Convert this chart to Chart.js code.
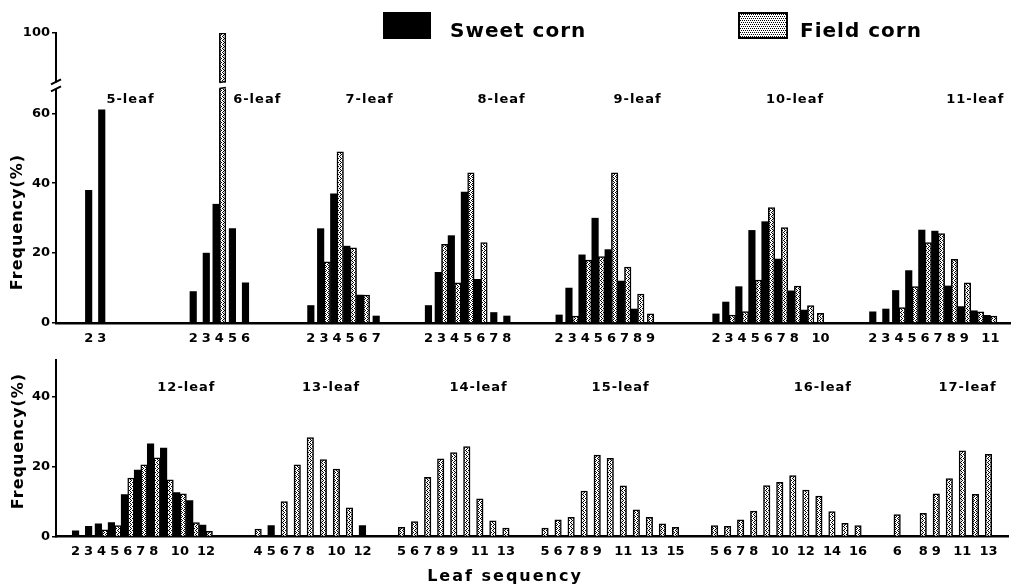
<!DOCTYPE html>
<html>
<head>
<meta charset="utf-8">
<script src="https://cdn.jsdelivr.net/npm/chart.js@4.4.1/dist/chart.umd.min.js"></script>
<style>
  body { margin: 0; background: #fff; }
  #wrap { position: relative; width: 1016px; height: 587px; overflow: hidden; font-family: "DejaVu Sans", sans-serif; font-weight: bold; }
  canvas { position: absolute; left: 0; }
  .keytxt { position: absolute; top: 18px; font-size: 20px; letter-spacing: 1px; color: #000; }
</style>
</head>
<body>
<div id="wrap">
  <canvas id="topChart" width="1016" height="350" style="top:0"></canvas>
  <canvas id="bottomChart" width="1016" height="237" style="top:350px"></canvas>
  <div style="position:absolute;left:383px;top:12px;width:48px;height:27px;background:#000"></div>
  <div class="keytxt" style="left:450px">Sweet corn</div>
  <canvas id="fieldKey" width="50" height="27" style="left:738px;top:12px"></canvas>
  <div class="keytxt" style="left:800px">Field corn</div>
</div>
<script>
// ---- data: frequency (%) of each leaf position, per plant type ----
const topGroups = ['5-leaf', '6-leaf', '7-leaf', '8-leaf', '9-leaf', '10-leaf', '11-leaf'];
const topTicks = [
  ['2', '3'],
  ['2', '3', '4', '5', '6'],
  ['2', '3', '4', '5', '6', '7'],
  ['2', '3', '4', '5', '6', '7', '8'],
  ['2', '3', '4', '5', '6', '7', '8', '9'],
  ['2', '3', '4', '5', '6', '7', '8', '', '10'],
  ['2', '3', '4', '5', '6', '7', '8', '9', '', '11']
];
const topSweet = [
  [38, 61],
  [9, 20, 34, 27, 11.5],
  [5, 27, 37, 22, 8, 2],
  [5, 14.5, 25, 37.5, 12.5, 3, 2],
  [2.3, 10, 19.5, 30, 21, 12, 4, null],
  [2.6, 6, 10.4, 26.5, 29, 18.3, 9.2, 3.7, null],
  [3.2, 4, 9.3, 15, 26.6, 26.3, 10.6, 4.7, 3.5, 2.2]
];
const topField = [
  [null, null],
  [null, null, 100, null, null],
  [null, 17.5, 49, 21.5, 8, null],
  [null, 22.5, 11.5, 43, 23, null, null],
  [null, 2, 18, 19, 43, 16, 8.3, 2.6],
  [null, 2.3, 3.3, 12.3, 33, 27.3, 10.6, 5, 2.8],
  [null, null, 4.4, 10.4, 23, 25.6, 18.2, 11.5, 3.2, 2]
];

const bottomGroups = ['12-leaf', '13-leaf', '14-leaf', '15-leaf', '16-leaf', '17-leaf'];
const bottomTicks = [
  ['2', '3', '4', '5', '6', '7', '8', '', '10', '', '12'],
  ['4', '5', '6', '7', '8', '', '10', '', '12'],
  ['5', '6', '7', '8', '9', '', '11', '', '13'],
  ['5', '6', '7', '8', '9', '', '11', '', '13', '', '15'],
  ['5', '6', '7', '8', '', '10', '', '12', '', '14', '', '16'],
  ['6', '', '8', '9', '', '11', '', '13']
];
const bottomSweet = [
  [1.6, 2.9, 3.6, 4, 12, 19, 26.5, 25.3, 12.6, 10.3, 3.3],
  [null, 3.1, null, null, null, null, null, null, 3.1],
  [null, null, null, null, null, null, null, null, null],
  [null, null, null, null, null, null, null, null, null, null, null],
  [null, null, null, null, null, null, null, null, null, null, null, null],
  [null, null, null, null, null, null, null, null]
];
const bottomField = [
  [null, null, 1.9, 3.1, 16.7, 20.5, 22.5, 16.2, 12.2, 4, 1.5],
  [2.1, null, 10, 20.5, 28.3, 22, 19.3, 8.2, null],
  [2.6, 4.3, 16.9, 22.2, 24, 25.7, 10.8, 4.5, 2.4],
  [2.4, 4.8, 5.5, 13, 23.3, 22.4, 14.5, 7.6, 5.5, 3.6, 2.6],
  [3.1, 2.9, 4.8, 7.3, 14.6, 15.5, 17.4, 13.3, 11.6, 7.1, 3.8, 3.1],
  [6.3, null, 6.6, 12.2, 16.6, 24.5, 12.1, 23.5]
];

const yTicksTop = [0, 20, 40, 60, 100];
const yTicksBottom = [0, 20, 40];

// ---- layout ----
const topGaps = [2, 6, 4, 3, 3, 4, 3];       // empty slots before each group
const bottomGaps = [1, 3, 2, 2, 2, 2];
const topLabelAt = [3.2, 4.9, 4.5, 5.6, 6.0, 6.05, 7.85];  // group title, slots from group start
const bottomLabelAt = [8.5, 5.6, 5.9, 5.8, 8.3, 5.4];

// broken y axis on top panel: above brkAt the scale is squeezed
const brkAt = 68, brkTop = 83, brkFull = 100;
const squeeze = v => v == null ? null : (v <= brkAt ? v : brkAt + (v - brkAt) * (brkTop - brkAt) / (brkFull - brkAt));
const unsqueeze = p => p <= brkAt ? p : brkAt + (p - brkAt) * (brkFull - brkAt) / (brkTop - brkAt);

const FONT = '"DejaVu Sans", sans-serif';
const tickFont = { family: FONT, size: 13, weight: 'bold' };

// wavy fill for the field corn bars
function zigzag(ctx) {
  const c = document.createElement('canvas');
  c.width = 3; c.height = 4;
  const g = c.getContext('2d');
  g.fillStyle = '#fff'; g.fillRect(0, 0, 3, 4);
  g.fillStyle = '#000';
  g.fillRect(0, 0, 1, 1); g.fillRect(1, 1, 1, 1);
  g.fillRect(2, 2, 1, 1); g.fillRect(1, 3, 1, 1);
  return ctx.createPattern(c, 'repeat');
}

// fine dots for the legend swatch
function stipple(ctx) {
  const c = document.createElement('canvas');
  c.width = 4; c.height = 4;
  const g = c.getContext('2d');
  g.fillStyle = '#fff'; g.fillRect(0, 0, 4, 4);
  g.fillStyle = '#000';
  g.fillRect(0, 0, 1, 1); g.fillRect(2, 0, 1, 1);
  g.fillRect(1, 2, 1, 1); g.fillRect(3, 2, 1, 1);
  return ctx.createPattern(c, 'repeat');
}

function buildPanel(ticks, sweet, field, gaps, tail) {
  const labels = [], s = [], f = [], starts = [];
  ticks.forEach((grp, g) => {
    for (let k = 0; k < gaps[g]; k++) { labels.push(''); s.push(null); f.push(null); }
    starts.push(labels.length);
    grp.forEach((t, k) => { labels.push(t); s.push(sweet[g][k]); f.push(field[g][k]); });
  });
  for (let k = 0; k < tail; k++) { labels.push(''); s.push(null); f.push(null); }
  return { labels, s, f, starts };
}

function decor(p) {
  return {
    id: 'decor',
    afterDatasetsDraw(chart) {
      const { ctx, scales: { x } } = chart;
      ctx.save();
      ctx.fillStyle = '#000';
      ctx.textAlign = 'center';
      ctx.textBaseline = 'middle';
      ctx.letterSpacing = '1px';
      ctx.font = 'bold 13px ' + FONT;
      p.groups.forEach((name, g) => {
        ctx.fillText(name, x.getPixelForValue(p.starts[g] + p.labelAt[g]), p.labelY);
      });
      if (p.xTitle) {
        ctx.letterSpacing = '2px';
        ctx.font = 'bold 16px ' + FONT;
        ctx.fillText('Leaf sequency', p.xTitle[0], p.xTitle[1]);
      }
      ctx.letterSpacing = '1px';
      ctx.font = 'bold 16px ' + FONT;
      ctx.translate(p.yTitle[0], p.yTitle[1]);
      ctx.rotate(-Math.PI / 2);
      ctx.fillText('Frequency(%)', 0, 0);
      ctx.restore();
      if (p.after) p.after(chart);
    }
  };
}

function drawBreak(chart) {
  const { ctx, scales: { y }, chartArea } = chart;
  const yb = y.getPixelForValue(brkAt);
  ctx.save();
  ctx.strokeStyle = '#000';
  ctx.lineWidth = 1.5;
  [0, 1].forEach(d => {
    chart.getDatasetMeta(d).data.forEach(bar => {
      if (!(bar.y < yb - 4)) return;
      const l = bar.x - bar.width / 2, r = bar.x + bar.width / 2;
      ctx.fillStyle = '#fff';
      ctx.fillRect(l - 1, yb - 3, bar.width + 2, 6);
      ctx.beginPath();
      ctx.moveTo(l, yb - 3); ctx.lineTo(r, yb - 4);
      ctx.moveTo(l, yb + 3); ctx.lineTo(r, yb + 2);
      ctx.stroke();
    });
  });
  const ax = chartArea.left;
  ctx.fillStyle = '#fff';
  ctx.fillRect(ax - 3, yb - 3, 6, 6);
  ctx.lineWidth = 2;
  ctx.beginPath();
  ctx.moveTo(ax - 5, yb - 1); ctx.lineTo(ax + 5, yb - 6);
  ctx.moveTo(ax - 5, yb + 6); ctx.lineTo(ax + 5, yb + 1);
  ctx.stroke();
  ctx.restore();
}

function panelChart(id, panel, o) {
  const canvas = document.getElementById(id);
  const pattern = zigzag(canvas.getContext('2d'));
  return new Chart(canvas, {
    type: 'bar',
    data: {
      labels: panel.labels,
      datasets: [
        { label: 'Sweet corn', data: panel.s.map(o.map), backgroundColor: '#000', borderWidth: 0,
          barThickness: 6.5, skipNull: true, clip: 0 },
        { label: 'Field corn', data: panel.f.map(o.map), backgroundColor: pattern, borderColor: '#000',
          borderWidth: 1.5, barThickness: 6.5, skipNull: true, clip: 0 }
      ]
    },
    options: {
      responsive: false,
      animation: false,
      layout: { padding: o.padding },
      plugins: { legend: { display: false }, tooltip: { enabled: false } },
      scales: {
        x: {
          grid: { display: false, drawTicks: false },
          border: { color: '#000', width: 2.5 },
          ticks: { autoSkip: false, maxRotation: 0, color: '#000', font: tickFont, padding: o.xPad },
          afterFit: s => { s.height = o.xHeight; }
        },
        y: {
          min: 0, max: o.max,
          grid: { drawOnChartArea: false, color: '#000', lineWidth: 1.5, tickLength: 4 },
          border: { color: '#000', width: 2 },
          ticks: { color: '#000', font: tickFont, padding: 2, callback: v => Math.round(unsqueeze(v)) },
          afterBuildTicks: s => { s.ticks = o.yTicks.map(v => ({ value: o.map(v) })); },
          afterFit: s => { s.width = 56; }
        }
      }
    },
    plugins: [decor(Object.assign({ starts: panel.starts }, o.decor))]
  });
}

const topPanel = buildPanel(topTicks, topSweet, topField, topGaps, 1);
const bottomPanel = buildPanel(bottomTicks, bottomSweet, bottomField, bottomGaps, 1);

panelChart('topChart', topPanel, {
  map: squeeze, max: brkTop, yTicks: yTicksTop,
  padding: { top: 33, right: 6, left: 0, bottom: 0 },
  xHeight: 27, xPad: 8,
  decor: { groups: topGroups, labelAt: topLabelAt, labelY: 100, yTitle: [18, 222], after: drawBreak }
});

panelChart('bottomChart', bottomPanel, {
  map: v => v, max: 50.5, yTicks: yTicksBottom,
  padding: { top: 10, right: 8, left: 0, bottom: 0 },
  xHeight: 50.5, xPad: 7,
  decor: { groups: bottomGroups, labelAt: bottomLabelAt, labelY: 38, yTitle: [19, 91], xTitle: [505, 227] }
});

// legend swatch for field corn
(function () {
  const c = document.getElementById('fieldKey');
  const g = c.getContext('2d');
  g.fillStyle = stipple(g);
  g.fillRect(0, 0, 50, 27);
  g.strokeStyle = '#000';
  g.lineWidth = 2;
  g.strokeRect(1, 1, 48, 25);
})();
</script>
</body>
</html>
